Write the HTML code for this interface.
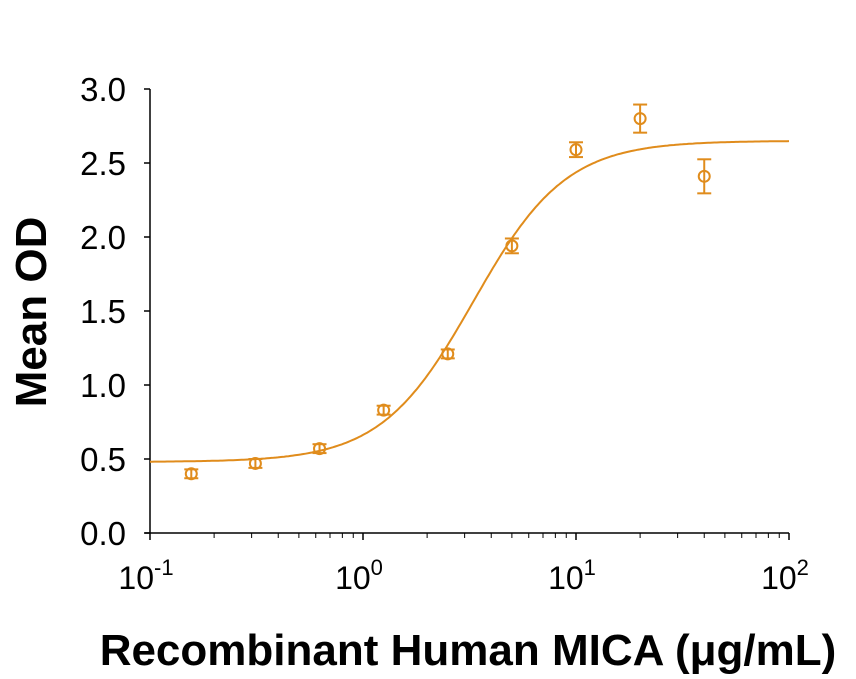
<!DOCTYPE html>
<html><head><meta charset="utf-8"><style>
body{margin:0;background:#fff;}
svg{display:block;font-family:"Liberation Sans",Arial,sans-serif;}
</style></head><body>
<svg id="chart" width="856" height="679"></svg>
<script>
const concentrations=[0.15625,0.3125,0.625,1.25,2.5,5,10,20,40];
const meanOD=[0.40,0.47,0.57,0.83,1.21,1.94,2.59,2.80,2.41];
const errorOD=[0.03,0.03,0.03,0.03,0.03,0.05,0.05,0.095,0.115];
const fitParams=[0.48,2.65,3.3,2.0];
const yTicks=[0,0.5,1.0,1.5,2.0,2.5,3.0];
const yTickLabels=["0.0","0.5","1.0","1.5","2.0","2.5","3.0"];
const xDecades=[-1,0,1,2];

const NS="http://www.w3.org/2000/svg";
const svg=document.getElementById('chart');
const col="#e08c1c";
const X0=150,DEC=213,Y0=533,YS=148;
function xs(v){return X0+(Math.log10(v)+1)*DEC;}
function ys(v){return Y0-v*YS;}
function mk(t,a,p){const e=document.createElementNS(NS,t);for(const k in a)e.setAttribute(k,a[k]);(p||svg).appendChild(e);return e;}

let e=mk('line',{x1:X0,y1:ys(3.0),x2:X0,y2:Y0,stroke:'#000','stroke-width':1.5});


e=mk('line',{x1:X0-5,y1:Y0,x2:xs(100),y2:Y0,stroke:'#000','stroke-width':1.5});



yTicks.forEach((v,i)=>{
  mk('line',{x1:X0-6,y1:ys(v),x2:X0,y2:ys(v),stroke:'#000','stroke-width':1.5});
  const t=mk('text',{x:X0-24,y:ys(v)+12,'text-anchor':'end','font-size':33,fill:'#000'});
  t.textContent=yTickLabels[i];
  
  
});
xDecades.forEach((d,i)=>{
  const x=xs(Math.pow(10,d));
  mk('line',{x1:x,y1:Y0,x2:x,y2:Y0+7,stroke:'#000','stroke-width':1.5});
  const t=mk('text',{x:x-4,y:Y0+56,'text-anchor':'middle','font-size':32,fill:'#000'});
  t.textContent='10';
  const s=mk('tspan',{dy:-14,'font-size':22},t);s.textContent=String(d);
  
  
  if(i<xDecades.length-1){for(let m=2;m<=9;m++){const xm=xs(m*Math.pow(10,d));mk('line',{x1:xm,y1:Y0,x2:xm,y2:Y0+5,stroke:'#000','stroke-width':1});}}
});

let dpath='';
for(let i=0;i<=300;i++){
  const lx=-1+3*i/300,x=Math.pow(10,lx);
  const [b,t,ec,h]=fitParams;
  const y=b+(t-b)/(1+Math.pow(ec/x,h));
  dpath+=(i?'L':'M')+xs(x).toFixed(1)+','+ys(y).toFixed(1);
}
e=mk('path',{d:dpath,fill:'none',stroke:col,'stroke-width':2});



concentrations.forEach((c,i)=>{
  const g=mk('g',{});
  
  
  const x=xs(c),y=ys(meanOD[i]),lo=ys(meanOD[i]-errorOD[i]),hi=ys(meanOD[i]+errorOD[i]);
  mk('line',{x1:x,y1:hi,x2:x,y2:lo,stroke:col,'stroke-width':2},g);
  mk('line',{x1:x-7,y1:hi,x2:x+7,y2:hi,stroke:col,'stroke-width':2},g);
  mk('line',{x1:x-7,y1:lo,x2:x+7,y2:lo,stroke:col,'stroke-width':2},g);
  mk('circle',{cx:x,cy:y,r:5.5,fill:'none',stroke:col,'stroke-width':2},g);
});

e=mk('text',{x:0,y:0,'font-size':44,'font-weight':'bold','text-anchor':'middle',transform:'translate(46,312) rotate(-90)'});
e.textContent='Mean OD';


e=mk('text',{x:468,y:665,'font-size':44,'font-weight':'bold','text-anchor':'middle'});
e.textContent='Recombinant Human MICA (\u03bcg/mL)';


</script>
</body></html>
